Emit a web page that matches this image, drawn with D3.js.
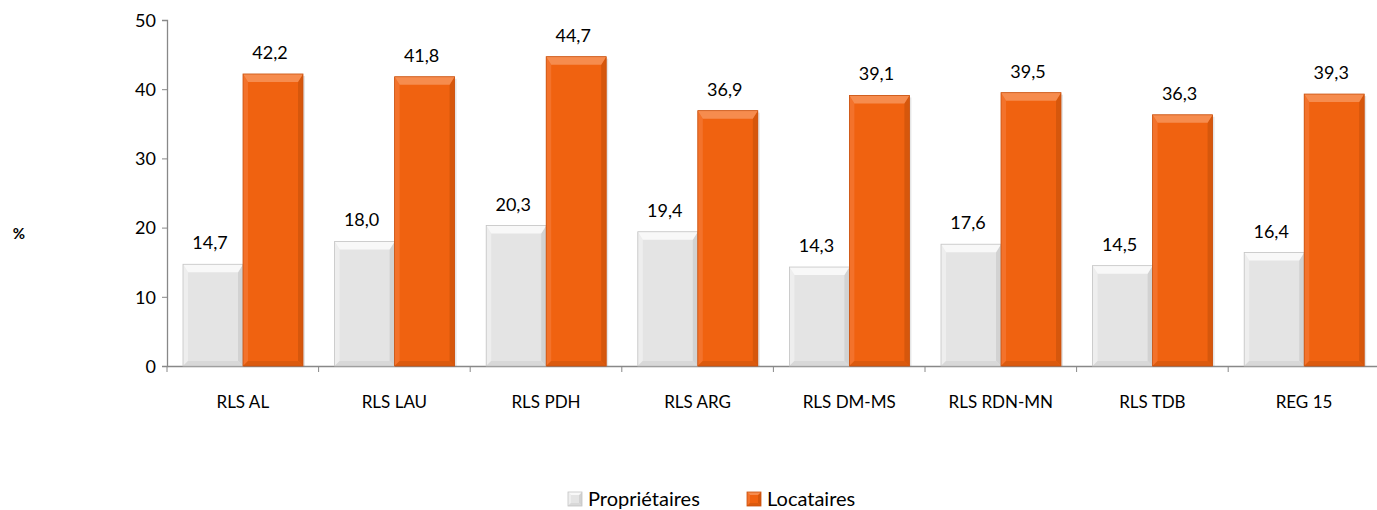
<!DOCTYPE html>
<meta charset="utf-8">
<script src="https://d3js.org/d3.v7.min.js"></script>
<style>
  body { margin: 0; background: #fff; }
  text { font-family: Lato, "Open Sans", sans-serif; fill: #000; }
</style>
<div id="chart"></div>
<script>
    // data
    var categories = ["RLS AL", "RLS LAU", "RLS PDH", "RLS ARG", "RLS DM-MS", "RLS RDN-MN", "RLS TDB", "REG 15"];
    var seriesNames = ["Propriétaires", "Locataires"];
    var proprietaires = [14.7, 18.0, 20.3, 19.4, 14.3, 17.6, 14.5, 16.4];
    var locataires = [42.2, 41.8, 44.7, 36.9, 39.1, 39.5, 36.3, 39.3];
    var yTicks = [0, 10, 20, 30, 40, 50];

    var W = 1377, H = 510;
    var svg = d3.select("#chart").append("svg")
        .attr("width", W).attr("height", H);

    // bar colours: base, top bevel, left, right, bottom
    var palette = {
        "Propriétaires": {base: "#e4e4e4", top: "#f8f8f8", left: "#eeeeee", right: "#d2d2d2", bottom: "#d8d8d8", stroke: "#c4c4c4"},
        "Locataires": {base: "#f06210", top: "#f68c4e", left: "#f3722b", right: "#d6570c", bottom: "#db5a0e", stroke: "#c95210"}
    };

    var x = d3.scaleBand().domain(categories).range([167, 167 + 8 * 151.6]);
    var xs = d3.scaleBand().domain(seriesNames).range([16, 136]);
    var y = d3.scaleLinear().domain([0, 50]).range([366, 20]);

    // y axis
    var yAxis = svg.append("g")
        .attr("transform", "translate(167,0)")
        .call(d3.axisLeft(y).tickValues(yTicks).tickSize(5).tickPadding(6));
    yAxis.select(".domain").attr("stroke", "#888").attr("stroke-width", 1.3);
    yAxis.selectAll(".tick line").attr("stroke", "#888");
    yAxis.selectAll(".tick text").style("font-size", "18px").attr("dy", "0.35em");

    // x axis
    var xAxis = svg.append("g")
        .attr("transform", "translate(0,366)")
        .call(d3.axisBottom(x).tickSize(0).tickPadding(30));
    xAxis.select(".domain").attr("stroke", "#888").attr("stroke-width", 1.3);
    xAxis.selectAll(".tick text").style("font-size", "17px");
    // boundary ticks
    xAxis.selectAll(".bound")
        .data(categories)
        .enter().append("line")
        .attr("x1", function (d) { return x(d); })
        .attr("x2", function (d) { return x(d); })
        .attr("y1", 0).attr("y2", 6)
        .attr("stroke", "#888");

    // "%" label
    svg.append("text")
        .attr("x", 19).attr("y", 239)
        .attr("text-anchor", "middle")
        .style("font-size", "15px").style("font-weight", "bold")
        .text("%");

    function bevel(g, bx, by, bw, bh, c, bt, bs) {
        bt = Math.min(bt, bh / 2);
        bs = Math.min(bs, bw / 2, bh / 2);
        g.append("rect").attr("x", bx).attr("y", by).attr("width", bw).attr("height", bh)
            .attr("fill", c.base);
        var polys = [
            [c.left, [[bx, by], [bx + bs, by + bt], [bx + bs, by + bh - bs], [bx, by + bh]]],
            [c.right, [[bx + bw, by], [bx + bw, by + bh], [bx + bw - bs, by + bh - bs], [bx + bw - bs, by + bt]]],
            [c.bottom, [[bx, by + bh], [bx + bs, by + bh - bs], [bx + bw - bs, by + bh - bs], [bx + bw, by + bh]]],
            [c.top, [[bx, by], [bx + bw, by], [bx + bw - bs, by + bt], [bx + bs, by + bt]]]
        ];
        polys.forEach(function (p) {
            g.append("polygon").attr("points", p[1].map(function (q) { return q.join(","); }).join(" "))
                .attr("fill", p[0]);
        });
        g.append("rect").attr("x", bx).attr("y", by).attr("width", bw).attr("height", bh)
            .attr("fill", "none").attr("stroke", c.stroke).attr("stroke-width", 0.8);
    }

    var rows = [];
    categories.forEach(function (cat, i) {
        rows.push({cat: cat, s: "Propriétaires", v: proprietaires[i]});
        rows.push({cat: cat, s: "Locataires", v: locataires[i]});
    });

    var bars = svg.append("g");
    rows.forEach(function (d) {
        var bx = x(d.cat) + xs(d.s);
        var by = y(d.v);
        var g = bars.append("g");
        // soft shadow
        g.append("rect").attr("x", bx + 2).attr("y", by + 2)
            .attr("width", xs.bandwidth()).attr("height", y(0) - by - 2)
            .attr("fill", "#000").attr("opacity", 0.1);
        bevel(g, bx, by, xs.bandwidth(), y(0) - by, palette[d.s], 8, 5);
    });

    // value labels
    svg.append("g").selectAll("text")
        .data(rows)
        .enter().append("text")
        .attr("x", function (d) { return x(d.cat) + xs(d.s) + xs.bandwidth() / 2 - 3; })
        .attr("y", function (d) { return y(d.v) - 15; })
        .attr("text-anchor", "middle")
        .style("font-size", "18px")
        .text(function (d) { return d.v.toFixed(1).replace(".", ","); });

    // legend
    var legendX = [568, 747];
    var legend = svg.append("g");
    seriesNames.forEach(function (s, i) {
        var g = legend.append("g");
        bevel(g, legendX[i], 492, 14, 14, palette[s], 3, 3);
        legend.append("text")
            .attr("x", legendX[i] + 20).attr("y", 506)
            .style("font-size", "20px")
            .text(s);
    });
</script>
